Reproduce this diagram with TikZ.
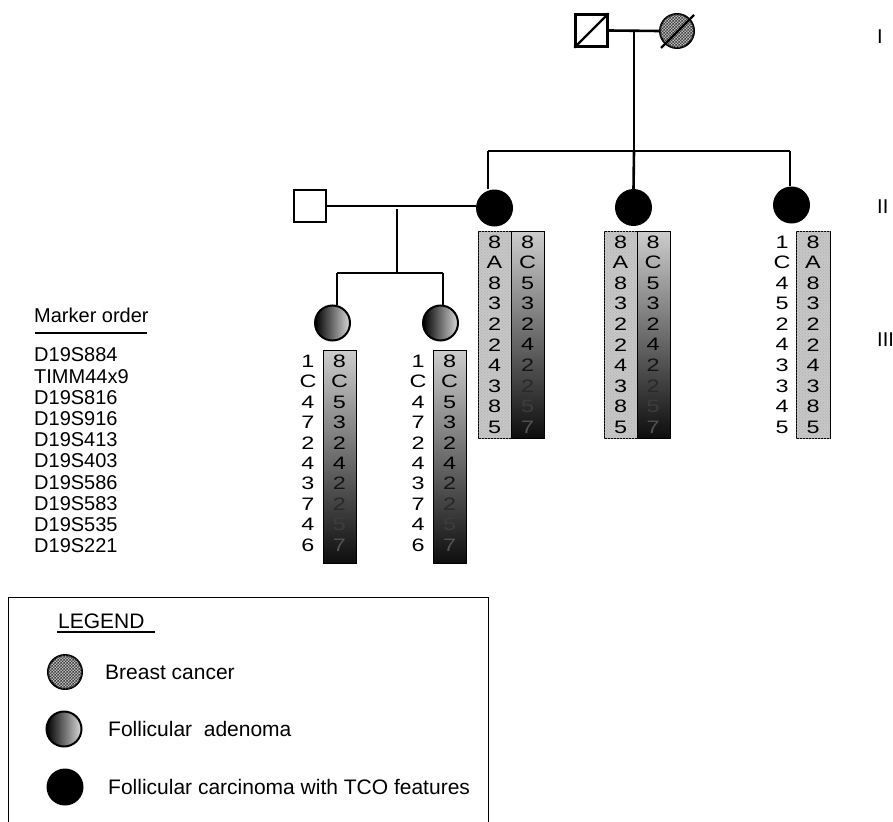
\documentclass[tikz,border=0pt]{standalone}
\usepackage{fontspec}
\setmainfont{Liberation Sans}
\usetikzlibrary{patterns}
\pgfdeclarepatternformonly{finecheck}{\pgfpointorigin}{\pgfqpoint{3.4pt}{3.4pt}}{\pgfqpoint{3.4pt}{3.4pt}}{%
  \pgfpathrectangle{\pgfpointorigin}{\pgfqpoint{1.7pt}{1.7pt}}%
  \pgfpathrectangle{\pgfqpoint{1.7pt}{1.7pt}}{\pgfqpoint{1.7pt}{1.7pt}}%
  \pgfusepath{fill}}
\begin{document}
\begin{tikzpicture}[x=1pt,y=-1pt,
  line/.style={line width=2.6pt},
  male/.style={draw,line width=2.4pt,minimum size=32pt,inner sep=0pt,fill=white},
  affected/.style={circle,fill=black,minimum size=37pt,inner sep=0pt},
  adenoma/.style={circle,draw,line width=2pt,minimum size=35pt,inner sep=0pt,left color=black,right color=gray!30},
  breast/.style={circle,draw,line width=2pt,minimum size=34pt,inner sep=0pt,fill=gray!50,postaction={pattern=finecheck,pattern color=black!75}},
  stipple/.style={draw,line width=1.3pt,fill=gray!45,postaction={pattern=crosshatch dots,pattern color=gray!60}},
  grad/.style={draw,line width=1.3pt,top color=gray!40,bottom color=black!95},
  hap/.style={inner sep=0pt,font=\fontsize{18}{18}\selectfont},
  lab/.style={inner sep=0pt,anchor=west,font=\fontsize{20}{20}\selectfont},
  leg/.style={inner sep=0pt,anchor=west,font=\fontsize{21}{21}\selectfont}
]
\useasboundingbox[fill=white] (0,0) rectangle (893,821);

% ---------- Generation I ----------
\node[male] (gf) at (591.5,30.5) {};
\node[breast] (gm) at (677,31) {};
\draw[line width=2.2pt] (gf.south west) -- (gf.north east);
\draw[line width=2.2pt] ([shift={(-16,17)}]gm.center) -- ([shift={(17,-16)}]gm.center);
\draw[line] (gf.east) -- (gm.west);
\coordinate (mI) at (634,31);
\coordinate (sibII) at (634,151);
\draw[line] (mI) -- (sibII);

% ---------- Generation II ----------
\node[affected] (II1) at (494.5,208) {};
\node[affected] (II2) at (633.5,207.5) {};
\node[affected] (II3) at (791.5,205) {};
\node[male] (sp) at (310,206) {};
\coordinate (sL) at (488,151);
\coordinate (sR) at (790,151);
\draw[line] (sL) -- (sR);
\draw[line] (sL) -- (sL |- II1.north);
\draw[line] (sibII) -- (II2.north);
\draw[line] (sR) -- (sR |- II3.north);
\draw[line] (sp.east) -- (sp.east -| II1.west);
\coordinate (mII) at (397,209);
\coordinate (sibIII) at (397,273);
\draw[line] (mII) -- (sibIII);

% ---------- Generation III ----------
\node[adenoma] (III1) at (332.5,323) {};
\node[adenoma] (III2) at (440.5,323) {};
\coordinate (tL) at (337,273);
\coordinate (tR) at (443,273);
\draw[line] (tL) -- (tR);
\draw[line] (tL) -- (tL |- III1.north);
\draw[line] (tR) -- (tR |- III2.north);

% ---------- haplotype boxes ----------
\node[stipple,anchor=north west,minimum width=33pt,minimum height=207pt] (bII1a) at (478,231) {};
\node[grad,anchor=north west,minimum width=33pt,minimum height=207pt] (bII1b) at (511,231) {};
\node[stipple,anchor=north west,minimum width=33pt,minimum height=207pt] (bII2a) at (604,231) {};
\node[grad,anchor=north west,minimum width=33pt,minimum height=207pt] (bII2b) at (637,231) {};
\node[stipple,anchor=north west,minimum width=34pt,minimum height=207pt] (bII3) at (796,231) {};
\node[grad,anchor=north west,minimum width=33pt,minimum height=213pt] (bIII1) at (323,350) {};
\node[grad,anchor=north west,minimum width=33pt,minimum height=213pt] (bIII2) at (433,350) {};

% haplotype digits
\foreach \v [count=\i from 0] in {8,A,8,3,2,2,4,3,8,5} {
  \node[hap] (h1a-\i) at (494.5,242+20.55*\i) {\scalebox{1.3}[1]{\v}};
  \node[hap] (h2a-\i) at (620.5,242+20.55*\i) {\scalebox{1.3}[1]{\v}};
  \node[hap] (h3b-\i) at (813,242+20.55*\i) {\scalebox{1.3}[1]{\v}};
}
\foreach \v [count=\i from 0] in {8,C,5,3,2,4,2,2,5,7} {
  \pgfmathtruncatemacro\c{\i<6 ? 100 : 100-8*(\i-5)}
  \node[hap,text=black!\c] (h1b-\i) at (527.5,242+20.55*\i) {\scalebox{1.3}[1]{\v}};
  \node[hap,text=black!\c] (h2b-\i) at (653,242+20.55*\i) {\scalebox{1.3}[1]{\v}};
  \node[hap,text=black!\c] (g1b-\i) at (339.5,361+20.45*\i) {\scalebox{1.3}[1]{\v}};
  \node[hap,text=black!\c] (g2b-\i) at (449.5,361+20.45*\i) {\scalebox{1.3}[1]{\v}};
}
\foreach \v [count=\i from 0] in {1,C,4,5,2,4,3,3,4,5} {
  \node[hap] (h3a-\i) at (782,242+20.55*\i) {\scalebox{1.3}[1]{\v}};
}
\foreach \v [count=\i from 0] in {1,C,4,7,2,4,3,7,4,6} {
  \node[hap] (g1a-\i) at (308,361+20.45*\i) {\scalebox{1.3}[1]{\v}};
  \node[hap] (g2a-\i) at (418,361+20.45*\i) {\scalebox{1.3}[1]{\v}};
}

% ---------- generation labels ----------
\node[lab] (gI) at (877,37) {I};
\node[lab] (gII) at (877,207) {II};
\node[lab] (gIII) at (877,340) {III};

% ---------- marker order ----------
\node[lab] (mo) at (34,315) {Marker order};
\draw[line width=1.3pt] (35,333) -- (147,333);
\foreach \m [count=\i from 0] in {D19S884,TIMM44x9,D19S816,D19S916,D19S413,D19S403,D19S586,D19S583,D19S535,D19S221} {
  \node[lab] (mk-\i) at (34,355+21.2*\i) {\m};
}

% ---------- legend ----------
\node[draw,line width=1.3pt,anchor=north west,minimum width=480pt,minimum height=240pt,inner sep=0pt] (legend) at (8,597) {};
\node[leg] (lt) at (58,621) {LEGEND};
\draw[line width=1.3pt] (57,632) -- (155,632);
\node[breast] (lb) at (65,672) {};
\node[leg] (lbt) at (105,672) {Breast cancer};
\node[adenoma] (la) at (64,729) {};
\node[leg] (lat) at (108,729) {Follicular\ \ adenoma};
\node[affected] (lc) at (65,787) {};
\node[leg] (lct) at (108,787) {Follicular carcinoma with TCO features};
\end{tikzpicture}
\end{document}
